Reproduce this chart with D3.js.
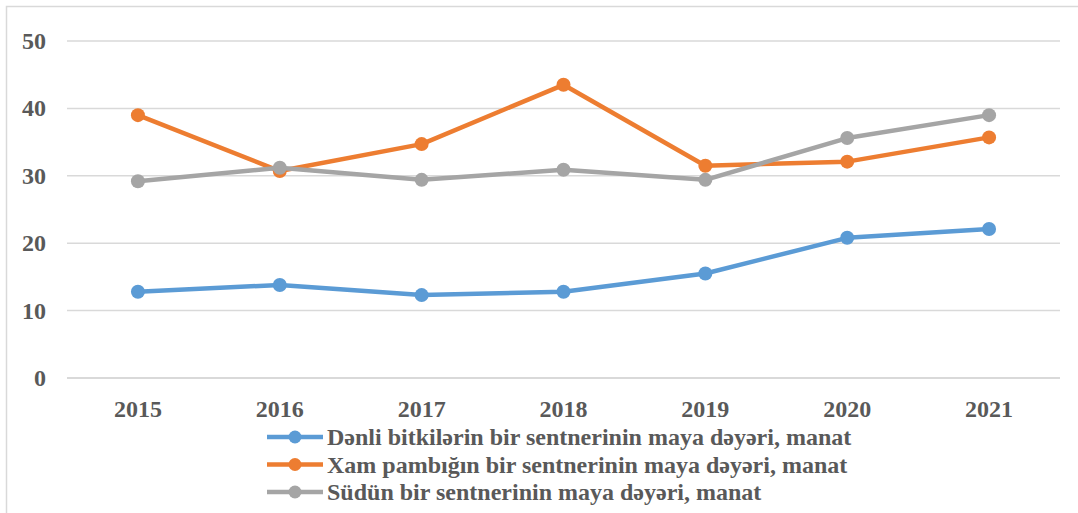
<html>
<head>
<meta charset="utf-8">
<style>
  body { margin: 0; background: #fff; }
</style>
</head>
<body>
<svg id="chart" width="1078" height="513"></svg>
<script src="https://d3js.org/d3.v7.min.js" charset="utf-8"></script>
<script>
  // data
  const years = ["2015", "2016", "2017", "2018", "2019", "2020", "2021"]
  const yTicks = [0, 10, 20, 30, 40, 50]
  const seriesNames = [
    "Dənli bitkilərin bir sentnerinin maya dəyəri, manat",
    "Xam pambığın bir sentnerinin maya dəyəri, manat",
    "Südün bir sentnerinin maya dəyəri, manat"
  ]
  const grain = [12.8, 13.8, 12.3, 12.8, 15.5, 20.8, 22.1]
  const cotton = [39.0, 30.7, 34.7, 43.5, 31.5, 32.1, 35.7]
  const milk = [29.2, 31.2, 29.4, 30.9, 29.4, 35.6, 39.0]
  const colors = ["#5B9BD5", "#ED7D31", "#A5A5A5"]

  const series = [grain, cotton, milk]
  const font = "Liberation Serif"
  const svg = d3.select("#chart")

  // chart border (only top/left show in the reference)
  svg.append("rect")
    .attr("x", 6.5).attr("y", 6.5)
    .attr("width", 1080).attr("height", 520)
    .attr("fill", "none").attr("stroke", "#d9d9d9").attr("stroke-width", 1.5)

  const x = d3.scaleBand().domain(years).range([67, 1060])
  const y = d3.scaleLinear().domain([0, 50]).range([378, 41])
  const cx = d => x(d) + x.bandwidth() / 2

  // gridlines
  svg.append("g").selectAll("line").data(yTicks).enter()
    .append("line")
    .attr("x1", 67).attr("x2", 1060)
    .attr("y1", d => y(d)).attr("y2", d => y(d))
    .attr("stroke", "#d9d9d9").attr("stroke-width", d => d === 0 ? 2 : 1.5)

  // y labels
  svg.append("g").selectAll("text").data(yTicks).enter()
    .append("text")
    .attr("x", 46).attr("y", d => y(d) + 8)
    .attr("text-anchor", "end")
    .attr("font-family", font).attr("font-weight", "bold")
    .attr("font-size", 24).attr("fill", "#595959")
    .text(d => d)

  // x labels
  svg.append("g").selectAll("text").data(years).enter()
    .append("text")
    .attr("x", d => cx(d)).attr("y", 417)
    .attr("text-anchor", "middle")
    .attr("font-family", font).attr("font-weight", "bold")
    .attr("font-size", 24).attr("fill", "#595959")
    .text(d => d)

  const line = d3.line()
    .x((d, i) => cx(years[i]))
    .y(d => y(d))

  // lines + markers
  series.forEach((vals, s) => {
    const g = svg.append("g")
    g.append("path")
      .attr("d", line(vals))
      .attr("fill", "none")
      .attr("stroke", colors[s])
      .attr("stroke-width", 4.5)
      .attr("stroke-linejoin", "round")
    g.selectAll("circle").data(vals).enter()
      .append("circle")
      .attr("cx", (d, i) => cx(years[i]))
      .attr("cy", d => y(d))
      .attr("r", 7)
      .attr("fill", colors[s])
  })

  // legend
  const legend = svg.append("g")
  seriesNames.forEach((name, i) => {
    const ly = 437 + i * 27.5
    legend.append("line")
      .attr("x1", 267).attr("x2", 323).attr("y1", ly).attr("y2", ly)
      .attr("stroke", colors[i]).attr("stroke-width", 4.5)
    legend.append("circle")
      .attr("cx", 295).attr("cy", ly).attr("r", 6.5)
      .attr("fill", colors[i])
    legend.append("text")
      .attr("x", 327).attr("y", ly + 8)
      .attr("font-family", font).attr("font-weight", "bold")
      .attr("font-size", 24).attr("fill", "#595959")
      .text(name)
  })
</script>
</body>
</html>
